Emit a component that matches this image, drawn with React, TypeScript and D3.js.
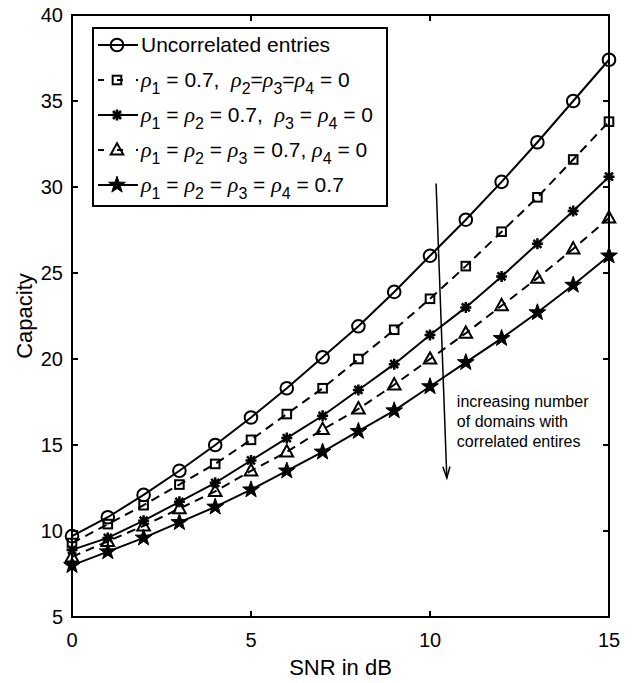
import React from "react";
import * as d3 from "d3";

const snr = d3.range(0, 16);
const uncorrelated = [9.7, 10.8, 12.1, 13.5, 15.0, 16.6, 18.3, 20.1, 21.9, 23.9, 26.0, 28.1, 30.3, 32.6, 35.0, 37.4];
const rho1 = [9.3, 10.4, 11.5, 12.7, 13.9, 15.3, 16.8, 18.3, 20.0, 21.7, 23.5, 25.4, 27.4, 29.4, 31.6, 33.8];
const rho12 = [8.9, 9.6, 10.6, 11.7, 12.8, 14.1, 15.4, 16.7, 18.2, 19.7, 21.4, 23.0, 24.8, 26.7, 28.6, 30.6];
const rho123 = [8.5, 9.4, 10.3, 11.3, 12.3, 13.5, 14.6, 15.9, 17.1, 18.5, 20.0, 21.5, 23.1, 24.7, 26.4, 28.2];
const rho1234 = [8.0, 8.8, 9.6, 10.5, 11.4, 12.4, 13.5, 14.6, 15.8, 17.0, 18.4, 19.8, 21.2, 22.7, 24.3, 26.0];

const legendLabels = [
  "Uncorrelated entries",
  "ρ_1 = 0.7,  ρ_2=ρ_3=ρ_4 = 0",
  "ρ_1 = ρ_2 = 0.7,  ρ_3 = ρ_4 = 0",
  "ρ_1 = ρ_2 = ρ_3 = 0.7, ρ_4 = 0",
  "ρ_1 = ρ_2 = ρ_3 = ρ_4 = 0.7",
];
const xTicks = [0, 5, 10, 15];
const yTicks = [5, 10, 15, 20, 25, 30, 35, 40];
const annotationLines = ["increasing number", "of domains with", "correlated entires"];

type Marker = "circle" | "square" | "asterisk" | "triangle" | "star";
const series: { values: number[]; marker: Marker; dashed: boolean }[] = [
  { values: uncorrelated, marker: "circle", dashed: false },
  { values: rho1, marker: "square", dashed: true },
  { values: rho12, marker: "asterisk", dashed: false },
  { values: rho123, marker: "triangle", dashed: true },
  { values: rho1234, marker: "star", dashed: false },
];

const W = 633, H = 683;
const m = { left: 72, right: 609, top: 15, bottom: 617 };
const FONT = "'Liberation Sans', Arial, Helvetica, sans-serif";

function starPath(R: number, r: number) {
  const pts: string[] = [];
  for (let i = 0; i < 10; i++) {
    const a = -Math.PI / 2 + (i * Math.PI) / 5;
    const rad = i % 2 === 0 ? R : r;
    pts.push(`${(rad * Math.cos(a)).toFixed(2)},${(rad * Math.sin(a)).toFixed(2)}`);
  }
  return "M" + pts.join("L") + "Z";
}

function MarkerShape({ type, x, y }: { type: Marker; x: number; y: number }) {
  const t = `translate(${x},${y})`;
  if (type === "circle") return <circle cx={x} cy={y} r={6.3} fill="none" stroke="#000" strokeWidth={2} />;
  if (type === "square") return <rect x={x - 4.3} y={y - 4.3} width={8.6} height={8.6} fill="none" stroke="#000" strokeWidth={2} />;
  if (type === "triangle")
    return <path transform={t} d="M0,-6.8L6.3,4.6L-6.3,4.6Z" fill="none" stroke="#000" strokeWidth={2} strokeLinejoin="miter" />;
  if (type === "star") return <path transform={t} d={starPath(8.8, 3.5)} fill="#000" stroke="#000" strokeWidth={1} />;
  const s = 5.5, d = 4;
  return (
    <path
      transform={t}
      d={`M${-s},0L${s},0M0,${-s}L0,${s}M${-d},${-d}L${d},${d}M${-d},${d}L${d},${-d}`}
      stroke="#000"
      strokeWidth={2.5}
      fill="none"
    />
  );
}

function RichLabel({ text, x, y }: { text: string; x: number; y: number }) {
  const parts = text.split(/(ρ_\d)/).filter((p) => p.length > 0);
  const spans: React.ReactNode[] = [];
  let lowered = false;
  parts.forEach((p, i) => {
    if (p.startsWith("ρ_")) {
      spans.push(
        <tspan key={i + "r"} dy={lowered ? -7 : 0} fontFamily="'Liberation Serif', 'Times New Roman', serif" fontStyle="italic" fontSize={22}>
          ρ
        </tspan>
      );
      spans.push(
        <tspan key={i + "s"} dy={7} fontSize={16}>
          {p.slice(2)}
        </tspan>
      );
      lowered = true;
    } else {
      spans.push(
        <tspan key={i} dy={lowered ? -7 : 0}>
          {p}
        </tspan>
      );
      lowered = false;
    }
  });
  return (
    <text x={x} y={y} fontFamily={FONT} fontSize={21} style={{ whiteSpace: "pre" }}>
      {spans}
    </text>
  );
}

export default function App() {
  const x = d3.scaleLinear().domain([0, 15]).range([m.left, m.right]);
  const y = d3.scaleLinear().domain([5, 40]).range([m.bottom, m.top]);
  const line = d3
    .line<number>()
    .x((_, i) => x(snr[i]))
    .y((v) => y(v));

  const tick = 6;
  const legend = { x0: 93, y0: 28, x1: 387, y1: 206, row0: 45, step: 35 };

  const a0 = { x: x(10.17), y: y(30.2) };
  const a1 = { x: x(10.47), y: y(13.08) };
  const ang = Math.atan2(a1.y - a0.y, a1.x - a0.x);
  const hl = 12, hw = 0.3;
  const h1 = { x: a1.x - hl * Math.cos(ang - hw), y: a1.y - hl * Math.sin(ang - hw) };
  const h2 = { x: a1.x - hl * Math.cos(ang + hw), y: a1.y - hl * Math.sin(ang + hw) };

  return (
    <svg width={W} height={H} style={{ position: "absolute", left: 0, top: 0, background: "#fff" }}>
      <rect width={W} height={H} fill="#fff" />
      {series.map((s, si) => (
        <g key={si}>
          <path
            d={line(s.values) || ""}
            fill="none"
            stroke="#000"
            strokeWidth={2}
            strokeDasharray={s.dashed ? "9,6" : undefined}
          />
          {s.values.map((v, i) => (
            <MarkerShape key={i} type={s.marker} x={x(snr[i])} y={y(v)} />
          ))}
        </g>
      ))}

      <rect x={m.left} y={m.top} width={m.right - m.left} height={m.bottom - m.top} fill="none" stroke="#000" strokeWidth={2} />
      {xTicks.map((t) => (
        <g key={"x" + t}>
          <line x1={x(t)} x2={x(t)} y1={m.bottom} y2={m.bottom - tick} stroke="#000" strokeWidth={2} />
          <line x1={x(t)} x2={x(t)} y1={m.top} y2={m.top + tick} stroke="#000" strokeWidth={2} />
          <text x={x(t)} y={647} textAnchor="middle" fontFamily={FONT} fontSize={20}>
            {t}
          </text>
        </g>
      ))}
      {yTicks.map((t) => (
        <g key={"y" + t}>
          <line x1={m.left} x2={m.left + tick} y1={y(t)} y2={y(t)} stroke="#000" strokeWidth={2} />
          <line x1={m.right} x2={m.right - tick} y1={y(t)} y2={y(t)} stroke="#000" strokeWidth={2} />
          <text x={63} y={y(t) + 7} textAnchor="end" fontFamily={FONT} fontSize={20}>
            {t}
          </text>
        </g>
      ))}
      <text x={(m.left + m.right) / 2} y={675} textAnchor="middle" fontFamily={FONT} fontSize={22}>
        SNR in dB
      </text>
      <text
        transform={`translate(32,${(m.top + m.bottom) / 2}) rotate(-90)`}
        textAnchor="middle"
        fontFamily={FONT}
        fontSize={22}
      >
        Capacity
      </text>

      <line x1={a0.x} y1={a0.y} x2={a1.x} y2={a1.y} stroke="#000" strokeWidth={1.5} />
      <path d={`M${h1.x},${h1.y}L${a1.x},${a1.y}L${h2.x},${h2.y}`} fill="none" stroke="#000" strokeWidth={1.5} />
      {annotationLines.map((l, i) => (
        <text key={i} x={x(10.75)} y={407 + i * 20} fontFamily={FONT} fontSize={16}>
          {l}
        </text>
      ))}

      <rect
        x={legend.x0}
        y={legend.y0}
        width={legend.x1 - legend.x0}
        height={legend.y1 - legend.y0}
        fill="#fff"
        stroke="#000"
        strokeWidth={2}
      />
      {series.map((s, i) => {
        const cy = legend.row0 + i * legend.step;
        return (
          <g key={"lg" + i}>
            <line
              x1={98}
              x2={138}
              y1={cy}
              y2={cy}
              stroke="#000"
              strokeWidth={2}
              strokeDasharray={s.dashed ? "6,13,6,13" : undefined}
            />
            <MarkerShape type={s.marker} x={117} y={cy} />
            <RichLabel text={legendLabels[i]} x={141} y={cy + 7} />
          </g>
        );
      })}
    </svg>
  );
}
